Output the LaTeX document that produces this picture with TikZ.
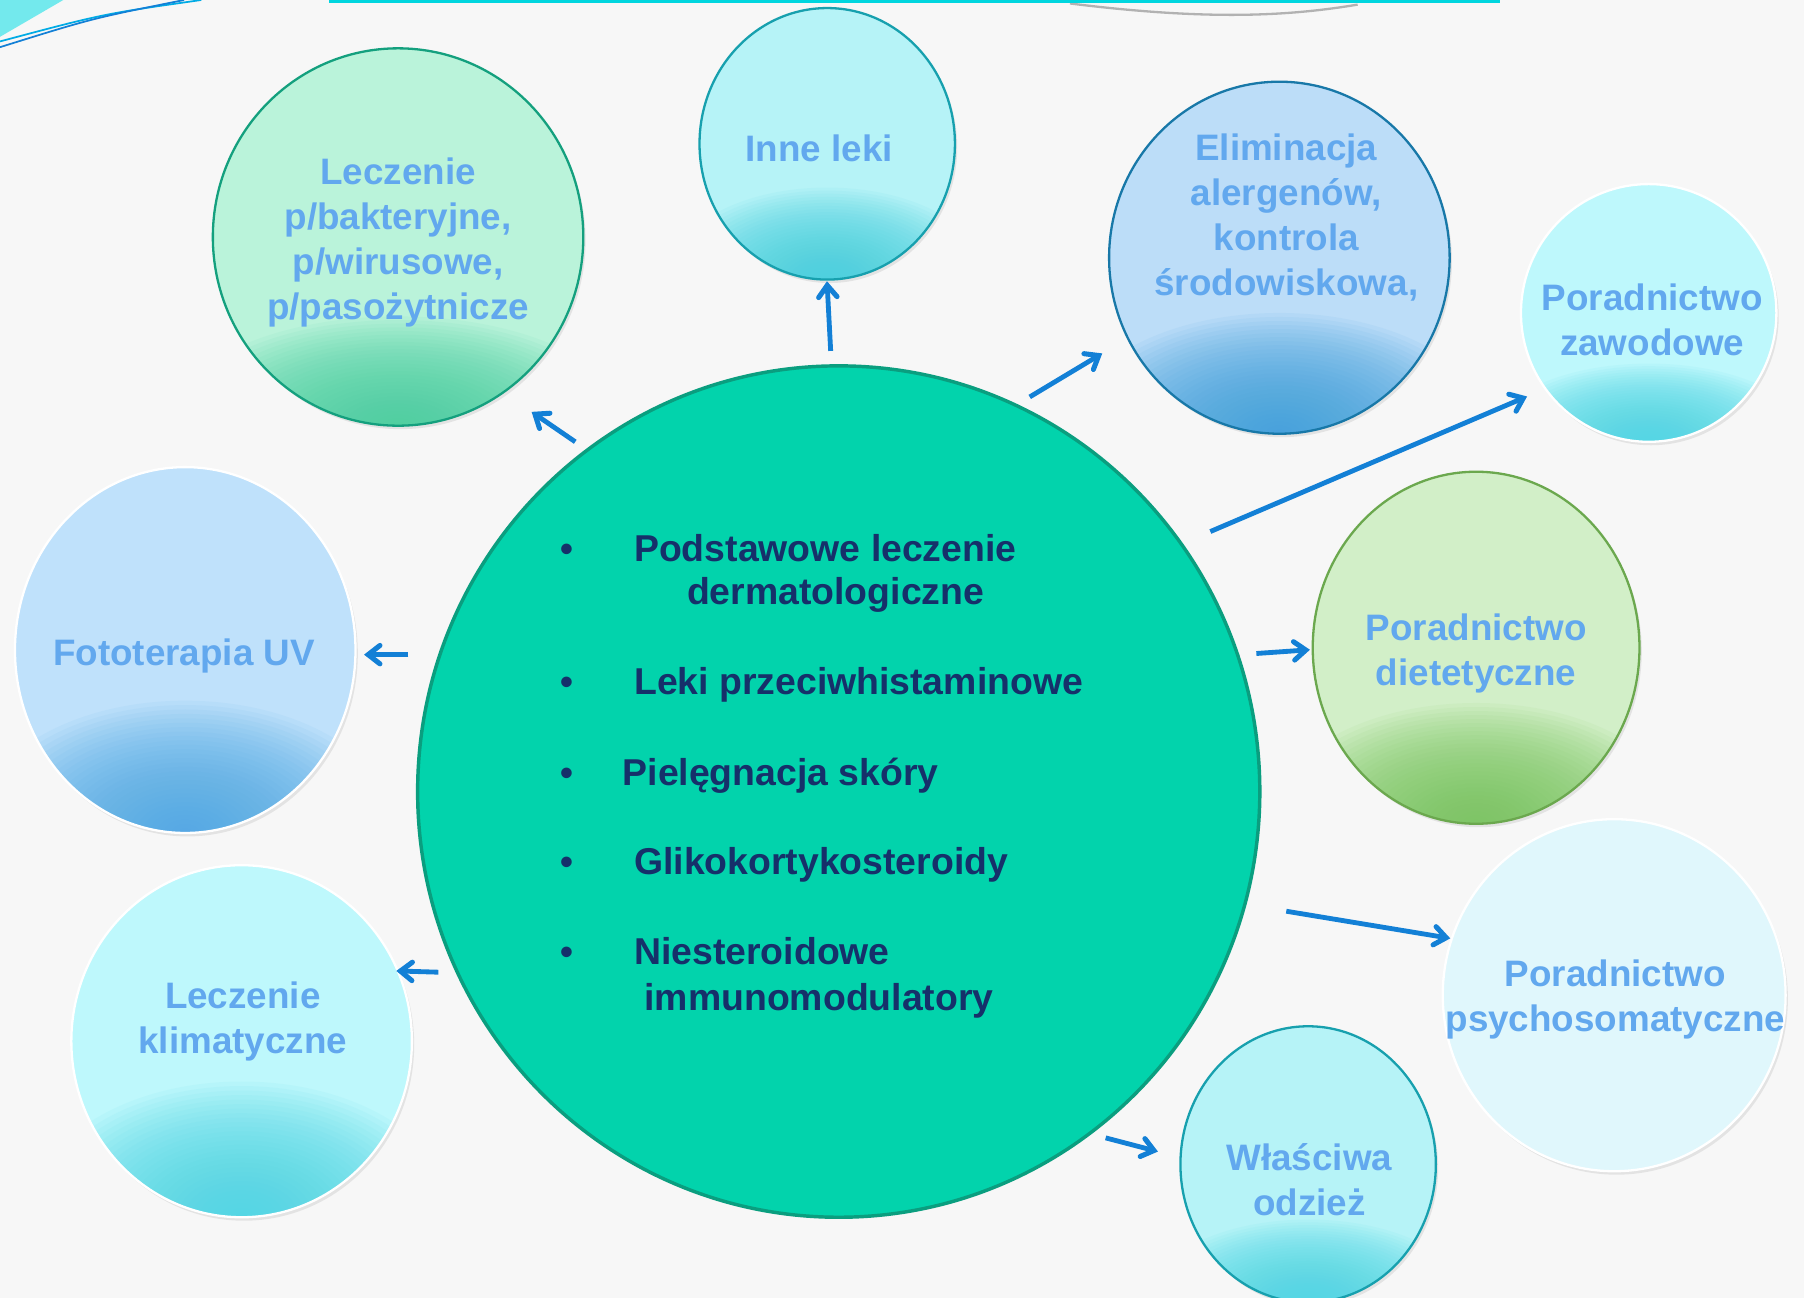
\documentclass[tikz,border=0pt]{standalone}
\usepackage{fontspec}
\setmainfont{Liberation Sans}
\usetikzlibrary{shapes.geometric,calc}
\definecolor{bg}{HTML}{F7F7F7}
\definecolor{lblue}{HTML}{62A8EE}
\definecolor{navy}{HTML}{16306A}
\definecolor{arrowblue}{HTML}{1380D6}
\definecolor{centerfill}{HTML}{02D3AC}
\definecolor{centerdraw}{HTML}{0A9E7F}
\definecolor{lbtop}{HTML}{BAF3DA}\definecolor{lbbot}{HTML}{48CFA0}\definecolor{lbdraw}{HTML}{14A07E}
\definecolor{intop}{HTML}{B6F3F7}\definecolor{inbot}{HTML}{45D0DE}\definecolor{indraw}{HTML}{17A0AE}
\definecolor{eltop}{HTML}{BCDDF8}\definecolor{elbot}{HTML}{3EA0DC}\definecolor{eldraw}{HTML}{1878A8}
\definecolor{zatop}{HTML}{BEF8FC}\definecolor{zabot}{HTML}{4CD6E4}
\definecolor{ditop}{HTML}{D2EFC8}\definecolor{dibot}{HTML}{78C55E}\definecolor{didraw}{HTML}{6BA84E}
\definecolor{pstop}{HTML}{E0F7FC}
\definecolor{fotop}{HTML}{BFE1FB}\definecolor{fobot}{HTML}{4EA8E4}
\definecolor{barcyan}{HTML}{00D6DF}
\begin{document}
\begin{tikzpicture}[x=1pt,y=-1pt,
  bubble/.style={ellipse, inner sep=0pt, line width=2pt},
  grad/.style n args={4}{fill=#1, path picture={%
     \foreach \k in {0,...,29}{\fill[#2, opacity=0.065] (path picture bounding box.south) ellipse ({#3*(1-\k/30)} and {#4*(1-\k/30)});}}},
  lbl/.style={text=lblue, font=\bfseries\fontsize{32}{39}\selectfont, align=center},
  ctxt/.style={text=navy, font=\bfseries\fontsize{32.5}{39}\selectfont, anchor=base west, inner sep=0pt},
  bul/.style={text=navy, font=\bfseries\fontsize{32}{39}\selectfont, anchor=base, inner sep=0pt},
  arrline/.style={draw=arrowblue, line width=4.2pt},
  arrhead/.style={draw=arrowblue, line width=4.4pt, line cap=round, line join=miter},
  shadowc/.style={fill=black, opacity=0.08}
]
\useasboundingbox (0,0) rectangle (1568,1128);
\fill[bg] (0,0) rectangle (1568,1128);
% top decoration
\fill[barcyan!55] (0,0) -- (55,0) -- (0,32) -- cycle;
\draw[barcyan!80!blue, line width=1.5pt] (175,0) .. controls (90,12) .. (0,36);
\draw[arrowblue, line width=1.5pt] (160,0) .. controls (80,16) .. (0,41);
\draw[black!30, line width=2pt] (930,3) .. controls (1050,18) and (1120,14) .. (1180,4);
\fill[white] (288,-20) rectangle (1302,1);
\draw[barcyan, line width=4pt] (288,-20) rectangle (1302,1);
% shadows
\fill[shadowc] (348,209) ellipse (161 and 164);
\fill[shadowc] (721,128) ellipse (111 and 118);
\fill[shadowc] (1114,227) ellipse (148 and 153);
\fill[shadowc] (1435,275) ellipse (111 and 112);
\fill[shadowc] (1285,566) ellipse (142 and 153);
\fill[shadowc] (1405,868) ellipse (149 and 153);
\fill[shadowc] (1139,1015) ellipse (111 and 120);
\fill[shadowc] (212,908) ellipse (148 and 153);
\fill[shadowc] (163,568) ellipse (148 and 159);
% bubbles
\node[bubble, minimum width=732pt, minimum height=740pt, fill=centerfill, draw=centerdraw, line width=3pt] (center) at (729,688) {};
\node[bubble, minimum width=322pt, minimum height=328pt, grad={lbtop}{lbbot}{200}{95}, draw=lbdraw] (lb) at (346,206) {};
\node[bubble, minimum width=222pt, minimum height=236pt, grad={intop}{inbot}{140}{80}, draw=indraw] (inne) at (719,125) {};
\node[bubble, minimum width=296pt, minimum height=306pt, grad={eltop}{elbot}{185}{105}, draw=eldraw] (elim) at (1112,224) {};
\node[bubble, minimum width=222pt, minimum height=224pt, grad={zatop}{zabot}{140}{68}, draw=white] (zaw) at (1433,272) {};
\node[bubble, minimum width=284pt, minimum height=306pt, grad={ditop}{dibot}{180}{105}, draw=didraw] (diet) at (1283,563) {};
\node[bubble, minimum width=298pt, minimum height=306pt, fill=pstop, draw=white] (psy) at (1403,865) {};
\node[bubble, minimum width=222pt, minimum height=240pt, grad={intop}{zabot}{140}{72}, draw=indraw] (odz) at (1137,1012) {};
\node[bubble, minimum width=296pt, minimum height=306pt, grad={zatop}{zabot}{185}{118}, draw=white] (klim) at (210,905) {};
\node[bubble, minimum width=296pt, minimum height=318pt, grad={fotop}{fobot}{185}{115}, draw=white] (foto) at (161,565) {};
% labels
\node[lbl] (t-lb) at (346,211) {Leczenie\\p/bakteryjne,\\p/wirusowe,\\p/pasożytnicze};
\node[lbl] (t-inne) at (712,129) {Inne leki};
\node[lbl] (t-elim) at (1118,189) {Eliminacja\\alergenów,\\kontrola\\środowiskowa,};
\node[lbl] (t-zaw) at (1436,278) {Poradnictwo\\zawodowe};
\node[lbl] (t-diet) at (1283,568) {Poradnictwo\\dietetyczne};
\node[lbl] (t-psy) at (1404,869) {Poradnictwo\\psychosomatyczne};
\node[lbl] (t-odz) at (1138,1025) {Właściwa\\odzież};
\node[lbl] (t-klim) at (211,888) {Leczenie\\klimatyczne};
\node[lbl] (t-foto) at (160,570) {Fototerapia UV};
% central list
\node[bul] (b1) at (493,488) {•};
\node[ctxt] (c1) at (551,488) {Podstawowe leczenie};
\node[ctxt] (c1b) at (597,525) {dermatologiczne};
\node[bul] (b2) at (493,604) {•};
\node[ctxt] (c2) at (551,604) {Leki przeciwhistaminowe};
\node[bul] (b3) at (493,683) {•};
\node[ctxt] (c3) at (541,683) {Pielęgnacja skóry};
\node[bul] (b4) at (493,760) {•};
\node[ctxt] (c4) at (551,760) {Glikokortykosteroidy};
\node[bul] (b5) at (493,838) {•};
\node[ctxt] (c5) at (551,838) {Niesteroidowe};
\node[ctxt] (c5b) at (560,878) {immunomodulatory};
% arrows
\coordinate (a1s) at (722,305); \coordinate (a1e) at (719,248);
\coordinate (a2s) at (500,384); \coordinate (a2e) at (465,360);
\coordinate (a3s) at (355,569); \coordinate (a3e) at (320,569);
\coordinate (a4s) at (381,845); \coordinate (a4e) at (348,844);
\coordinate (a5s) at (895,345); \coordinate (a5e) at (955,309);
\coordinate (a6s) at (1052,462); \coordinate (a6e) at (1324,346);
\coordinate (a7s) at (1092,568); \coordinate (a7e) at (1135,565);
\coordinate (a8s) at (1118,792); \coordinate (a8e) at (1257,815);
\coordinate (a9s) at (961,989); \coordinate (a9e) at (1003,1000);
\foreach \i in {1,...,9} {
  \draw[arrline] (a\i s) -- ($(a\i e)!2pt!(a\i s)$);
  \draw[arrhead] ($(a\i e)!13pt!38:(a\i s)$) -- (a\i e) -- ($(a\i e)!13pt!-38:(a\i s)$);
}
\end{tikzpicture}
\end{document}
